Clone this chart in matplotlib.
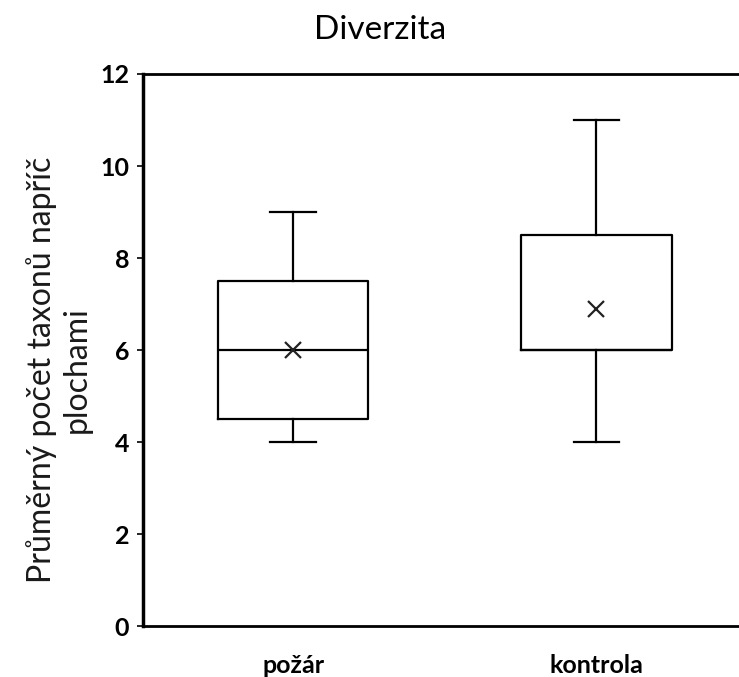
import matplotlib
matplotlib.use("Agg")
import matplotlib.pyplot as plt

# Summary statistics per treatment
categories = ["požár", "kontrola"]
whisker_low = [4, 4]
q1 = [4.5, 6]
median = [6, 6]
q3 = [7.5, 8.5]
whisker_high = [9, 11]
mean = [6, 6.9]

plt.rcParams['font.family'] = ['Lato', 'DejaVu Sans']

fig = plt.figure(figsize=(7.39, 6.77), dpi=100)
ax = fig.add_axes([0.1935, 0.0753, 0.8065, 0.8154])

stats = []
for i, name in enumerate(categories):
    stats.append(dict(label=name, whislo=whisker_low[i], q1=q1[i], med=median[i],
                      q3=q3[i], whishi=whisker_high[i], mean=mean[i], fliers=[]))

line = dict(color='black', linewidth=1.6)
ax.bxp(stats, positions=[1, 2], widths=0.495, showmeans=True, showfliers=False,
       boxprops=line, whiskerprops=line, capprops=line, medianprops=line,
       meanprops=dict(marker='x', markeredgecolor='#222222', markersize=11,
                      markeredgewidth=1.6),
       capwidths=0.15)

ax.set_xlim(0.505, 2.47)
ax.set_ylim(0, 12)
ax.set_yticks([0, 2, 4, 6, 8, 10, 12])

ax.spines['left'].set_linewidth(2.5)
ax.spines['bottom'].set_linewidth(2)
ax.spines['top'].set_linewidth(2)
ax.spines['right'].set_visible(False)

ax.tick_params(axis='y', length=4, width=1.2, labelsize=18, pad=6)
ax.tick_params(axis='x', length=0, labelsize=18, pad=20)
for lbl in ax.get_xticklabels() + ax.get_yticklabels():
    lbl.set_fontweight('bold')

ax.set_ylabel("Průměrný počet taxonů napříč\nplochami", fontsize=23,
              linespacing=1.2, color='#1a1a1a')
ax.yaxis.set_label_coords(-0.086, 0.464)
fig.text(0.514, 0.955, "Diverzita", ha='center', va='center', fontsize=24)

fig.savefig("out.png", dpi=100)
